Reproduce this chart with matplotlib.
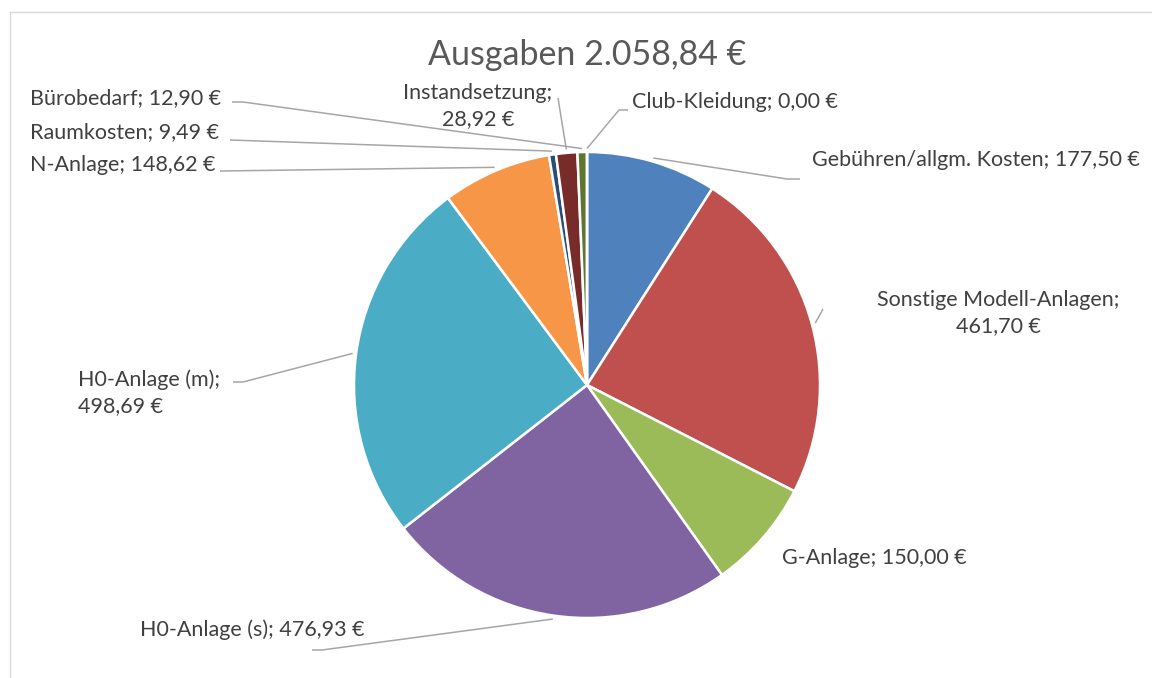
import matplotlib.pyplot as plt
import numpy as np

# Ausgaben nach Kategorie (Euro)
categories = ['Gebühren/allgm. Kosten', 'Sonstige Modell-Anlagen', 'G-Anlage',
              'H0-Anlage (s)', 'H0-Anlage (m)', 'N-Anlage', 'Raumkosten',
              'Instandsetzung', 'Bürobedarf', 'Club-Kleidung']
amounts = [177.50, 461.70, 150.00, 476.93, 498.69, 148.62, 9.49, 28.92, 12.90, 0.00]
total_shown = 2058.84
colors = ['#4F81BD', '#C0504D', '#9BBB59', '#8064A2', '#4BACC6', '#F79646',
          '#2C4D75', '#772C2A', '#5F7530', '#4D3B62']


def euro(v):
    s = '{:,.2f}'.format(v).replace(',', 'X').replace('.', ',').replace('X', '.')
    return s + ' €'


plt.rcParams['font.family'] = ['Lato', 'DejaVu Sans']

W, H = 1152, 678
fig = plt.figure(figsize=(W / 100, H / 100), dpi=100)
ax = fig.add_axes([0, 0, 1, 1])

# pie in pixel coordinates (y down), clockwise from the top
cx, cy, r = 587, 385, 233
wedges, _ = ax.pie(amounts, colors=colors, startangle=270, counterclock=True,
                   center=(cx, cy), radius=r,
                   wedgeprops=dict(edgecolor='white', linewidth=1.8))
ax.set_xlim(0, W)
ax.set_ylim(H, 0)
ax.set_aspect('equal')
ax.axis('off')

# chart frame
ax.plot([10, 10, W + 5], [H + 5, 12, 12], color='#D9D9D9', lw=1.0, clip_on=False)

ax.text(cx, 55, 'Ausgaben ' + euro(total_shown), ha='center', va='center',
        fontsize=24.5, color='#595959')

# label layout: text position, alignment, line break, leader knee points
layout = {
    'Gebühren/allgm. Kosten': ((812, 160), 'left', False, [(800, 179), (787, 179)]),
    'Sonstige Modell-Anlagen': ((998, 313), 'center', True, [(823, 309)]),
    'G-Anlage': ((782, 558), 'left', False, None),
    'H0-Anlage (s)': ((140, 630), 'left', False, [(312, 650), (322, 650)]),
    'H0-Anlage (m)': ((78, 393), 'left', True, [(233, 382), (243, 382)]),
    'N-Anlage': ((30, 165), 'left', False, [(220, 171)]),
    'Raumkosten': ((30, 132), 'left', False, [(230, 140)]),
    'Bürobedarf': ((30, 98), 'left', False, [(232, 102), (243, 102)]),
    'Instandsetzung': ((478, 106), 'center', True, [(558, 98)]),
    'Club-Kleidung': ((632, 102), 'left', False, [(628, 110), (619, 110)]),
}

for w, name, val in zip(wedges, categories, amounts):
    (tx, ty), ha, wrap, knees = layout[name]
    txt = name + ';' + ('\n' if wrap else ' ') + euro(val)
    ax.text(tx, ty, txt, ha=ha, va='center', multialignment=ha,
            fontsize=15.5, color='#404040', linespacing=1.35)
    if knees:
        mid = np.deg2rad((w.theta1 + w.theta2) / 2)
        ex = cx + r * 1.015 * np.cos(mid)
        ey = cy + r * 1.015 * np.sin(mid)
        xs = [k[0] for k in knees] + [ex]
        ys = [k[1] for k in knees] + [ey]
        ax.plot(xs, ys, color='#A6A6A6', lw=1.1, solid_capstyle='butt')

fig.savefig('out.png', dpi=100)
